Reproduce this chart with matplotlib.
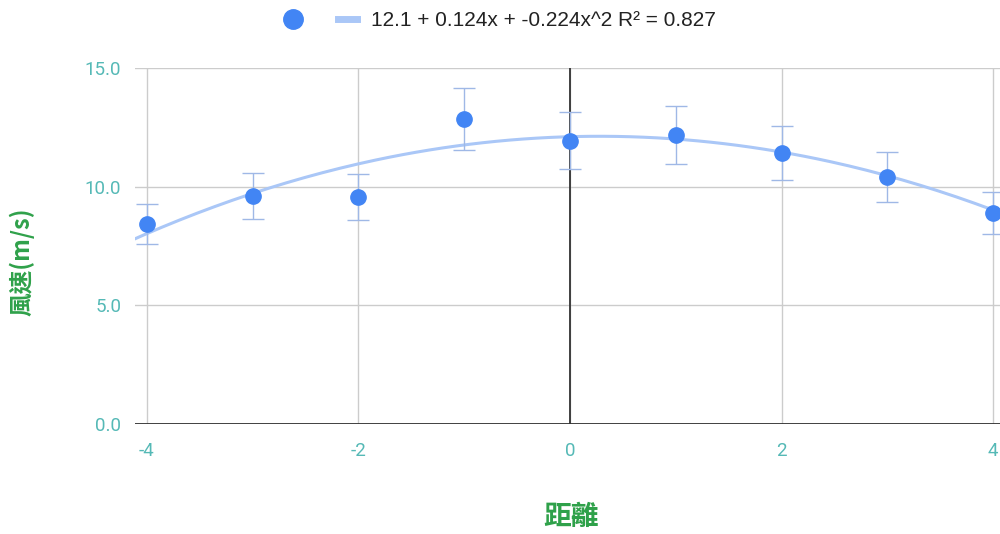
import numpy as np
import matplotlib
matplotlib.use("Agg")
import matplotlib.pyplot as plt
from matplotlib.lines import Line2D

plt.rcParams['font.family'] = ['Roboto', 'DejaVu Sans']

# measurements
distance = [-4, -3, -2, -1, 0, 1, 2, 3, 4]
wind_speed = [8.43, 9.61, 9.57, 12.85, 11.93, 12.18, 11.42, 10.41, 8.89]
wind_err = [0.84, 0.96, 0.96, 1.29, 1.19, 1.22, 1.14, 1.04, 0.89]

# polynomial trendline coefficients (c0, c1, c2) and fit quality
trend_coef = [12.1, 0.124, -0.224]
r_squared = 0.827

xticks = [-4, -2, 0, 2, 4]
yticks = [0, 5, 10, 15]

tick_color = '#55b9b6'
title_color = '#2fa14a'
dot_color = '#4285f4'
trend_color = '#aac7f7'
err_color = '#9fb8e6'

fig = plt.figure(figsize=(10, 5.34), dpi=100)
ax = fig.add_axes([0.135, 0.206, 0.865, 0.667])

for x in xticks:
    ax.axvline(x, color='#cccccc', lw=1, zorder=0)
for y in yticks:
    ax.axhline(y, color='#cccccc', lw=1, zorder=0)
ax.axvline(0, color='#333333', lw=1.3, zorder=1)
ax.axhline(0, color='#333333', lw=1.3, zorder=1)

xs = np.linspace(-4.2, 4.2, 200)
ys = trend_coef[0] + trend_coef[1] * xs + trend_coef[2] * xs ** 2
ax.plot(xs, ys, color=trend_color, lw=2.2, zorder=2, solid_capstyle='round')

ax.errorbar(distance, wind_speed, yerr=wind_err, fmt='none', ecolor=err_color,
            elinewidth=1, capsize=8, capthick=1, zorder=3)
ax.plot(distance, wind_speed, 'o', color=dot_color, ms=11, zorder=4)

ax.set_xlim(-4.113, 4.066)
ax.set_ylim(0, 15)
ax.set_xticks(xticks)
ax.set_xticklabels([str(v) for v in xticks])
ax.set_yticks(yticks)
ax.set_yticklabels(['%.1f' % v for v in yticks])
ax.tick_params(axis='both', length=0, colors=tick_color, labelsize=13.5)
ax.tick_params(axis='x', pad=13)
ax.tick_params(axis='y', pad=10)
for s in ax.spines.values():
    s.set_visible(False)

cjk = ['Noto Sans CJK TC', 'DejaVu Sans']
fig.text(0.571, 0.031, '距離', ha='center', va='center', color=title_color,
         fontsize=20, fontweight='bold', family=cjk)
fig.text(0.022, 0.51, '風速(m/s)', ha='center', va='center', rotation=90,
         color=title_color, fontsize=17, fontweight='bold', family=cjk)

label = '%.1f + %.3fx + %.3fx^2 R² = %.3f' % (trend_coef[0], trend_coef[1],
                                              trend_coef[2], r_squared)
handles = [Line2D([], [], marker='o', color=dot_color, ls='none', ms=14),
           Line2D([], [], color=trend_color, lw=5)]
fig.legend(handles, ['', label], ncol=2, frameon=False,
           loc='center', bbox_to_anchor=(0.5, 0.962), handlelength=0.9,
           handletextpad=0.7, columnspacing=1.0,
           prop={'family': 'Liberation Sans', 'size': 15}, labelcolor='#222222')

fig.savefig('out.png', dpi=100)
